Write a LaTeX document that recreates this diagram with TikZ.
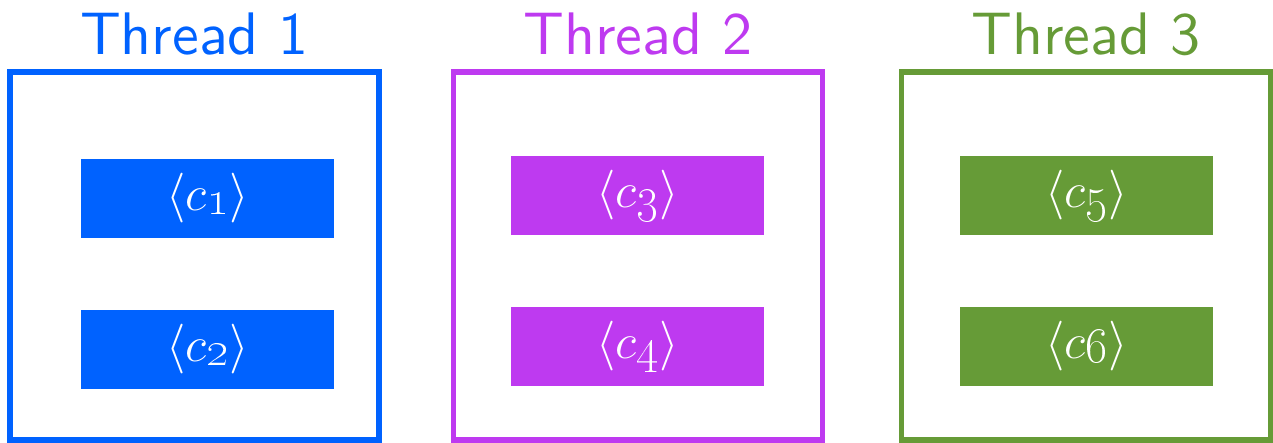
\documentclass[tikz,border=0pt]{standalone}
\usepackage{tikz}
\definecolor{tblue}{RGB}{0,98,255}
\definecolor{tpurple}{RGB}{190,58,240}
\definecolor{tgreen}{RGB}{102,155,55}
% chunk label: angle brackets round c with an old-style italic index
\newcommand{\chunklabel}[1]{$\langle c\raisebox{-1.8pt}{\fontsize{23}{23}\usefont{TS1}{lmr}{m}{it}#1\/}\rangle$}
% thread heading: 10pt sans, enlarged
\newcommand{\threadhead}[1]{\scalebox{3}{\sffamily\fontsize{10}{12}\selectfont #1}}
\begin{document}
\begin{tikzpicture}[x=0.5pt,y=-0.5pt,
  frame/.style={draw=#1, line width=2.75pt, minimum width=184.5pt, minimum height=184pt, inner sep=0pt},
  title/.style={text=#1, anchor=base, inner sep=0pt},
  chunk/.style={fill=#1, text=white, minimum width=126.5pt, minimum height=39.5pt, inner sep=0pt,
    font=\fontsize{29}{32}\selectfont}]
\useasboundingbox (0,0) rectangle (1273,443);
% Thread 1
\node[frame=tblue] (f1) at (194.5,256) {};
\node[title=tblue] (t1) at (194.5,55) {\threadhead{Thread 1}};
\node[chunk=tblue] (c1) at (207.5,198.5) {\chunklabel{1}};
\node[chunk=tblue] (c2) at (207.5,349.5) {\chunklabel{2}};
% Thread 2
\node[frame=tpurple] (f2) at (638,256) {};
\node[title=tpurple] (t2) at (638,55) {\threadhead{Thread 2}};
\node[chunk=tpurple] (c3) at (637.5,195.5) {\chunklabel{3}};
\node[chunk=tpurple] (c4) at (637.5,346.5) {\chunklabel{4}};
% Thread 3
\node[frame=tgreen] (f3) at (1086,256) {};
\node[title=tgreen] (t3) at (1086,55) {\threadhead{Thread 3}};
\node[chunk=tgreen] (c5) at (1086.5,195.5) {\chunklabel{5}};
\node[chunk=tgreen] (c6) at (1086.5,346.5) {\chunklabel{6}};
\end{tikzpicture}
\end{document}
